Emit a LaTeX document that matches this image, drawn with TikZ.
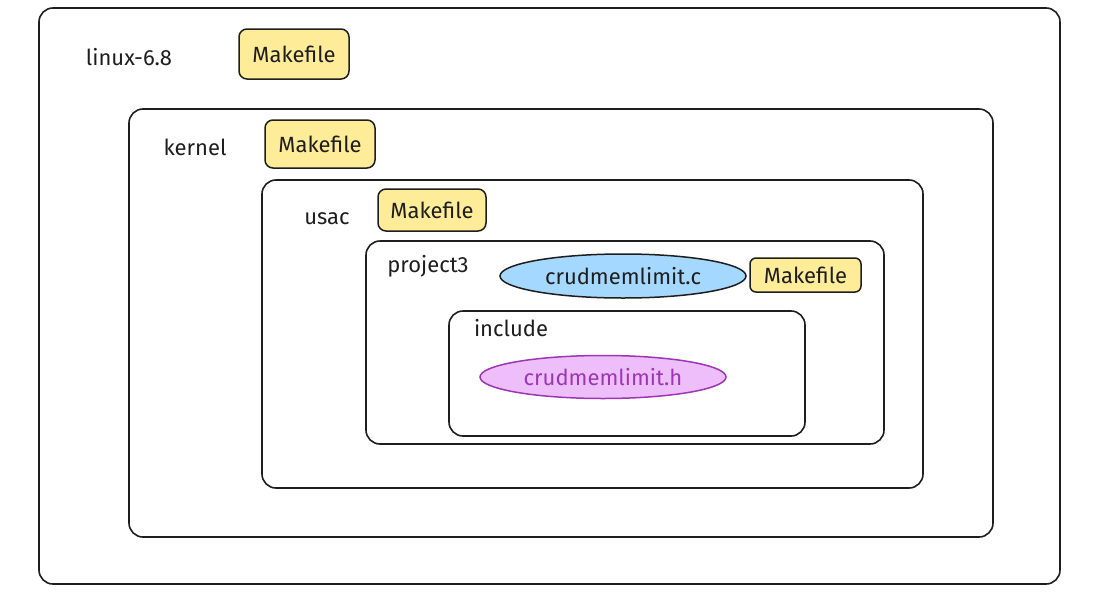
\documentclass[tikz,border=0pt]{standalone}
\usepackage{fontspec}
\setmainfont{Fira Sans}
\usetikzlibrary{shapes.geometric}
\definecolor{inkc}{HTML}{1E1E1E}
\definecolor{yelf}{HTML}{FFEC99}
\definecolor{bluf}{HTML}{A5D8FF}
\definecolor{purf}{HTML}{EEBEFA}
\definecolor{purs}{HTML}{9C36B5}
\tikzset{
  txtfont/.style={font=\fontsize{22}{24}\selectfont},
  frame/.style={draw=inkc, line width=1.6pt, rounded corners=14pt, inner sep=0pt},
  lbl/.style={text=inkc, txtfont, inner sep=0pt},
  mkbox/.style={draw=inkc, fill=yelf, line width=1.5pt, rounded corners=8pt, inner sep=0pt, text=inkc, txtfont},
  blueell/.style={ellipse, draw=inkc, fill=bluf, line width=1.5pt, inner sep=0pt, text=inkc, txtfont},
  purpell/.style={ellipse, draw=purs, fill=purf, line width=1.5pt, inner sep=0pt, text=purs, txtfont},
}
\begin{document}
\begin{tikzpicture}[x=1pt,y=-1pt]
\useasboundingbox[fill=white] (0,0) rectangle (1098,608);
% frames
\node[frame, minimum width=1021pt, minimum height=576pt] (linux) at (549.5,296) {};
\node[frame, minimum width=864pt, minimum height=428pt] (kernel) at (561,323) {};
\node[frame, minimum width=661pt, minimum height=308pt] (usac) at (592.5,334) {};
\node[frame, minimum width=518pt, minimum height=203pt] (project) at (625,342.5) {};
\node[frame, minimum width=356pt, minimum height=125pt] (include) at (627,373.5) {};
% labels
\node[lbl] (llinux) at (129,57) {linux-6.8};
\node[lbl] (lkernel) at (195,147) {kernel};
\node[lbl] (lusac) at (327,219) {usac};
\node[lbl] (lproject) at (428,266) {project3};
\node[lbl] (linclude) at (511,328) {include};
% files
\node[mkbox, minimum width=110pt, minimum height=50pt] (mk1) at (294,54) {Makefile};
\node[mkbox, minimum width=110pt, minimum height=48pt] (mk2) at (320,144) {Makefile};
\node[mkbox, minimum width=108pt, minimum height=42pt] (mk3) at (432,210) {Makefile};
\node[mkbox, minimum width=111pt, minimum height=34pt, rounded corners=6pt] (mk4) at (805.5,275) {Makefile};
\node[blueell, minimum width=246pt, minimum height=44pt] (cfile) at (623,276) {crudmemlimit.c};
\node[purpell, minimum width=246pt, minimum height=43pt] (hfile) at (603,377) {crudmemlimit.h};
\end{tikzpicture}
\end{document}
